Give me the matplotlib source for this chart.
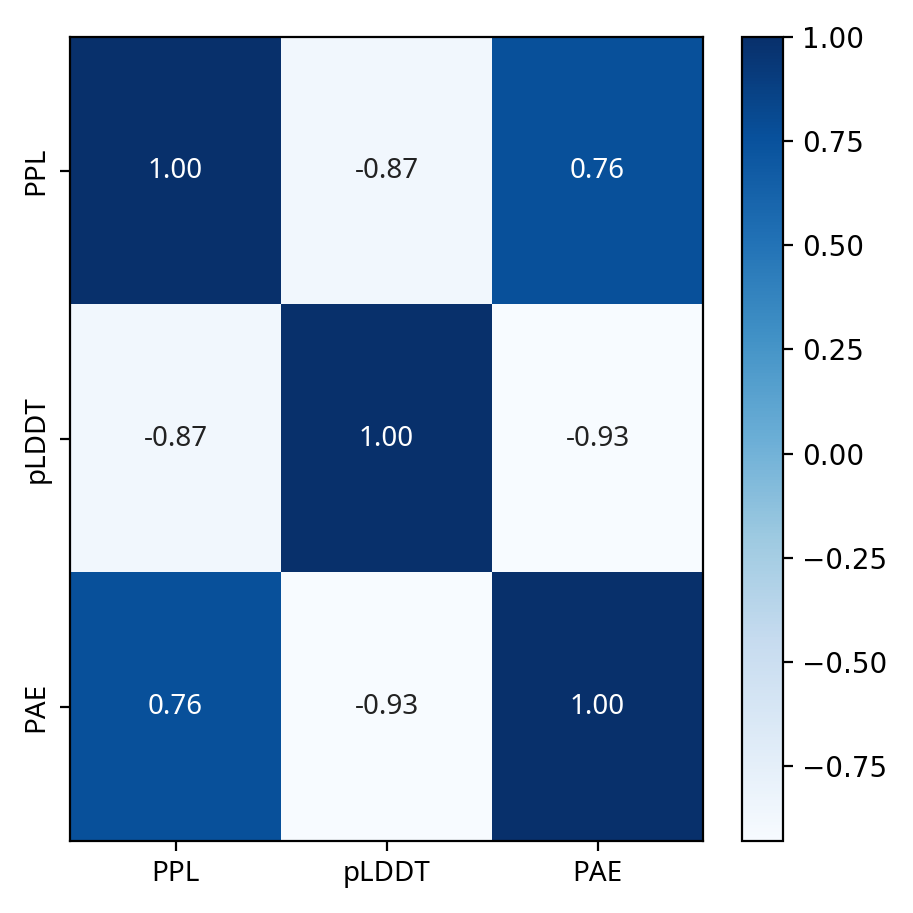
import numpy as np
import matplotlib
matplotlib.use('Agg')
import matplotlib.pyplot as plt

# Correlation matrix between metrics
labels = ['PPL', 'pLDDT', 'PAE']
corr = np.array([
    [1.00, -0.87, 0.76],
    [-0.87, 1.00, -0.93],
    [0.76, -0.93, 1.00],
])

label_font = ['Noto Sans', 'DejaVu Sans']

fig = plt.figure(figsize=(913 / 200, 913 / 200), dpi=200)
ax = fig.add_axes([0.0767, 0.0789, 0.6933, 0.8806])
cax = fig.add_axes([0.8127, 0.0789, 0.0449, 0.8806])

im = ax.imshow(corr, cmap='Blues', aspect='auto')
fig.colorbar(im, cax=cax)

ax.set_xticks(range(len(labels)))
ax.set_xticklabels(labels, family=label_font)
ax.set_yticks(range(len(labels)))
ax.set_yticklabels(labels, rotation=90, va='center', family=label_font)

# Annotate cells
for i in range(len(labels)):
    for j in range(len(labels)):
        val = corr[i, j]
        color = 'white' if val > 0.5 else '#222222'
        ax.text(j, i, f'{val:.2f}', ha='center', va='center', color=color,
                family=label_font)

fig.savefig('out.png', dpi=200)
